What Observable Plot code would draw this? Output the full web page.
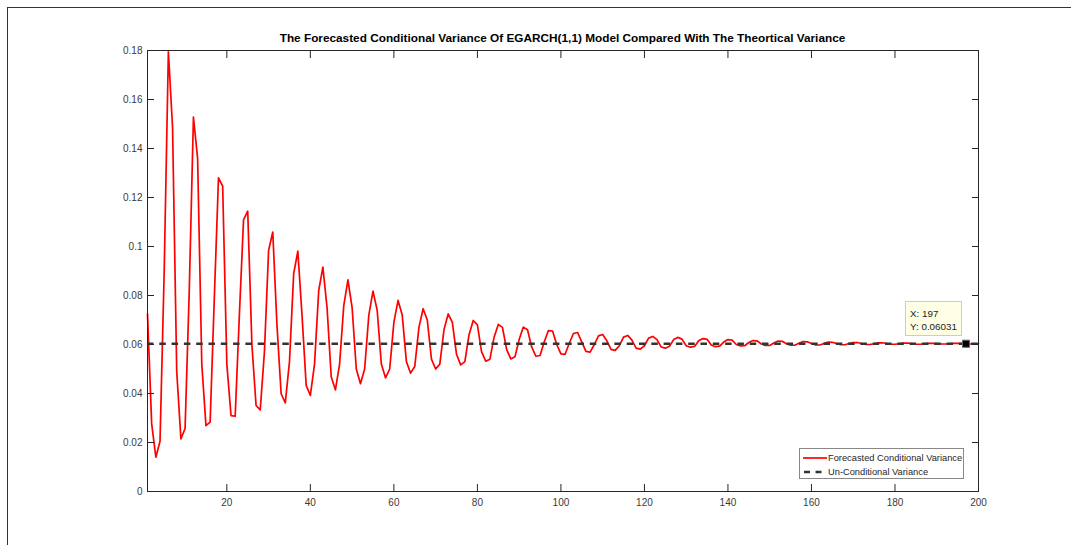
<!DOCTYPE html>
<html>
<head>
<meta charset="utf-8">
<script src="https://cdn.jsdelivr.net/npm/d3@7"></script>
<script src="https://cdn.jsdelivr.net/npm/@observablehq/plot@0.6"></script>
<style>
  html, body { margin: 0; padding: 0; background: #fff; }
  body { width: 1071px; height: 545px; position: relative; overflow: hidden; font-family: "Liberation Sans", Arial, sans-serif; }
  #frame { position: absolute; left: 7px; top: 7px; width: 1080px; height: 560px; border-left: 1px solid #333; border-top: 1px solid #333; box-sizing: border-box; }
  #chart { position: absolute; left: 0; top: 0; }
  #title { position: absolute; left: 147px; width: 831px; top: 31px; text-align: center; font-weight: bold; font-size: 11.8px; color: #000; white-space: nowrap; }
  #legend { position: absolute; left: 799px; top: 448px; width: 165px; height: 31px; box-sizing: border-box; border: 1px solid #888; background: #fff; font-size: 9.3px; color: #262626; }
  #legend .row { position: absolute; left: 0; height: 12px; line-height: 12px; white-space: nowrap; }
  #legend svg { position: absolute; left: 2px; top: 0; }
  #legend span { position: absolute; left: 28px; top: 0; }
  #tip { position: absolute; left: 905px; top: 301px; width: 57px; height: 35px; box-sizing: border-box; border: 1px solid #ccc; background: #ffffe6; font-size: 9.8px; color: #222; }
  #tip div { position: absolute; left: 4px; white-space: nowrap; }
</style>
</head>
<body>
<div id="frame"></div>
<div id="chart"></div>
<div id="title"></div>
<div id="legend"></div>
<div id="tip"></div>
<script>
// ---- data ----
const titleText = "The Forecasted Conditional Variance Of EGARCH(1,1) Model Compared With The Theortical Variance";
const seriesNames = ["Forecasted Conditional Variance", "Un-Conditional Variance"];
const horizon = d3.range(1, 201);
const forecastVariance = [
  0.0725, 0.0276, 0.0140, 0.0205, 0.0900, 0.1795, 0.1487, 0.0490, 0.0215, 0.0257,
  0.0820, 0.1528, 0.1360, 0.0520, 0.0269, 0.0283, 0.0790, 0.1280, 0.1246, 0.0520,
  0.0310, 0.0307, 0.0720, 0.1109, 0.1144, 0.0600, 0.0351, 0.0333, 0.0570, 0.0984,
  0.1059, 0.0680, 0.0399, 0.0362, 0.0530, 0.0888, 0.0981, 0.0720, 0.0433, 0.0392,
  0.0520, 0.0820, 0.0916, 0.0750, 0.0467, 0.0415, 0.0520, 0.0759, 0.0864, 0.0750,
  0.0500, 0.0440, 0.0500, 0.0720, 0.0818, 0.0740, 0.0520, 0.0464, 0.0500, 0.0690,
  0.0780, 0.0720, 0.0530, 0.0483, 0.0510, 0.0670, 0.0746, 0.0700, 0.0540, 0.0500,
  0.0520, 0.0660, 0.0725, 0.0690, 0.0560, 0.0517, 0.0530, 0.0640, 0.0698, 0.0680,
  0.0570, 0.0532, 0.0540, 0.0630, 0.0682, 0.0670, 0.0580, 0.0541, 0.0550, 0.0620,
  0.0671, 0.0660, 0.0590, 0.0552, 0.0555, 0.0610, 0.0657, 0.0655, 0.0600, 0.0562,
  0.0560, 0.0605, 0.0645, 0.0649, 0.0610, 0.0572, 0.0569, 0.0600, 0.0635, 0.0641,
  0.0615, 0.0580, 0.0576, 0.0595, 0.0630, 0.0637, 0.0618, 0.0585, 0.0581, 0.0595,
  0.0626, 0.0633, 0.0620, 0.0590, 0.0585, 0.0593, 0.0620, 0.0629, 0.0622, 0.0595,
  0.0589, 0.0592, 0.0615, 0.0624, 0.0621, 0.0598, 0.0591, 0.0593, 0.0610, 0.0620,
  0.0618, 0.0600, 0.0594, 0.0595, 0.0608, 0.0616, 0.0615, 0.0602, 0.0596, 0.0596,
  0.0606, 0.0614, 0.0613, 0.0603, 0.0597, 0.0597, 0.0605, 0.0612, 0.0611, 0.0604,
  0.0598, 0.0598, 0.0604, 0.0610, 0.0609, 0.0604, 0.0599, 0.0599, 0.0604, 0.0608,
  0.0608, 0.0604, 0.0600, 0.0600, 0.0603, 0.0607, 0.0607, 0.0604, 0.0601, 0.0601,
  0.0603, 0.0606, 0.0606, 0.0604, 0.0601, 0.0601, 0.0603, 0.0605, 0.0605, 0.0604,
  0.0602, 0.0602, 0.0603, 0.0605, 0.0605, 0.0604, 0.06031, 0.0602, 0.0603, 0.0604
];
const unconditionalVariance = 0.0603;
const tipX = 197;
const tipY = 0.06031;
const xTicks = [20, 40, 60, 80, 100, 120, 140, 160, 180, 200];
const yTicks = [0, 0.02, 0.04, 0.06, 0.08, 0.1, 0.12, 0.14, 0.16, 0.18];

// ---- chart ----
const rows = horizon.map((h, i) => ({h, v: forecastVariance[i]}));
const axisColor = "#262626";
const fmtY = d => String(+d.toFixed(2));

const chart = Plot.plot({
  width: 1071,
  height: 545,
  marginLeft: 147,
  marginRight: 93,
  marginTop: 50,
  marginBottom: 54,
  style: {fontFamily: "'Liberation Sans', Arial, sans-serif", fontSize: "10px", color: "#3a3a3a", background: "transparent", overflow: "visible"},
  x: {domain: [1, 200], label: null},
  y: {domain: [0, 0.18], label: null},
  marks: [
    Plot.lineY(rows, {x: "h", y: "v", stroke: "#ff0000", strokeWidth: 1.7}),
    Plot.ruleY([unconditionalVariance], {stroke: "#333", strokeWidth: 2.6, strokeDasharray: "6.5,5.8"}),
    Plot.dot([{x: tipX, y: tipY}], {x: "x", y: "y", symbol: "square", r: 4, fill: "#000", stroke: "#666", strokeWidth: 1}),
    Plot.frame({stroke: axisColor}),
    Plot.axisX(xTicks, {anchor: "bottom", tickSize: -7, tickPadding: 14, label: null, stroke: axisColor}),
    Plot.axisX(xTicks, {anchor: "top", tickSize: -7, tickFormat: () => "", label: null, stroke: axisColor}),
    Plot.axisY(yTicks, {anchor: "left", tickSize: -7, tickPadding: 12, tickFormat: fmtY, label: null, stroke: axisColor}),
    Plot.axisY(yTicks, {anchor: "right", tickSize: -7, tickFormat: () => "", label: null, stroke: axisColor})
  ]
});
document.getElementById("chart").appendChild(chart);

document.getElementById("title").textContent = titleText;

// legend
const legend = document.getElementById("legend");
const legendStyles = [
  {stroke: "#ff0000", width: 1.7, dash: null, top: 4},
  {stroke: "#333", width: 2.6, dash: "6,5.5", top: 18}
];
seriesNames.forEach((name, i) => {
  const s = legendStyles[i];
  const row = document.createElement("div");
  row.className = "row";
  row.style.top = (s.top - 1) + "px";
  row.innerHTML = `<svg width="26" height="12"><line x1="1" x2="25" y1="6" y2="6" stroke="${s.stroke}" stroke-width="${s.width}" ${s.dash ? `stroke-dasharray="${s.dash}" stroke-dashoffset="-1"` : ""}/></svg><span>${name}</span>`;
  legend.appendChild(row);
});

// data tip
const tip = document.getElementById("tip");
tip.innerHTML = `<div style="top:6px">X: ${tipX}</div><div style="top:19px">Y: ${tipY}</div>`;
</script>
</body>
</html>
